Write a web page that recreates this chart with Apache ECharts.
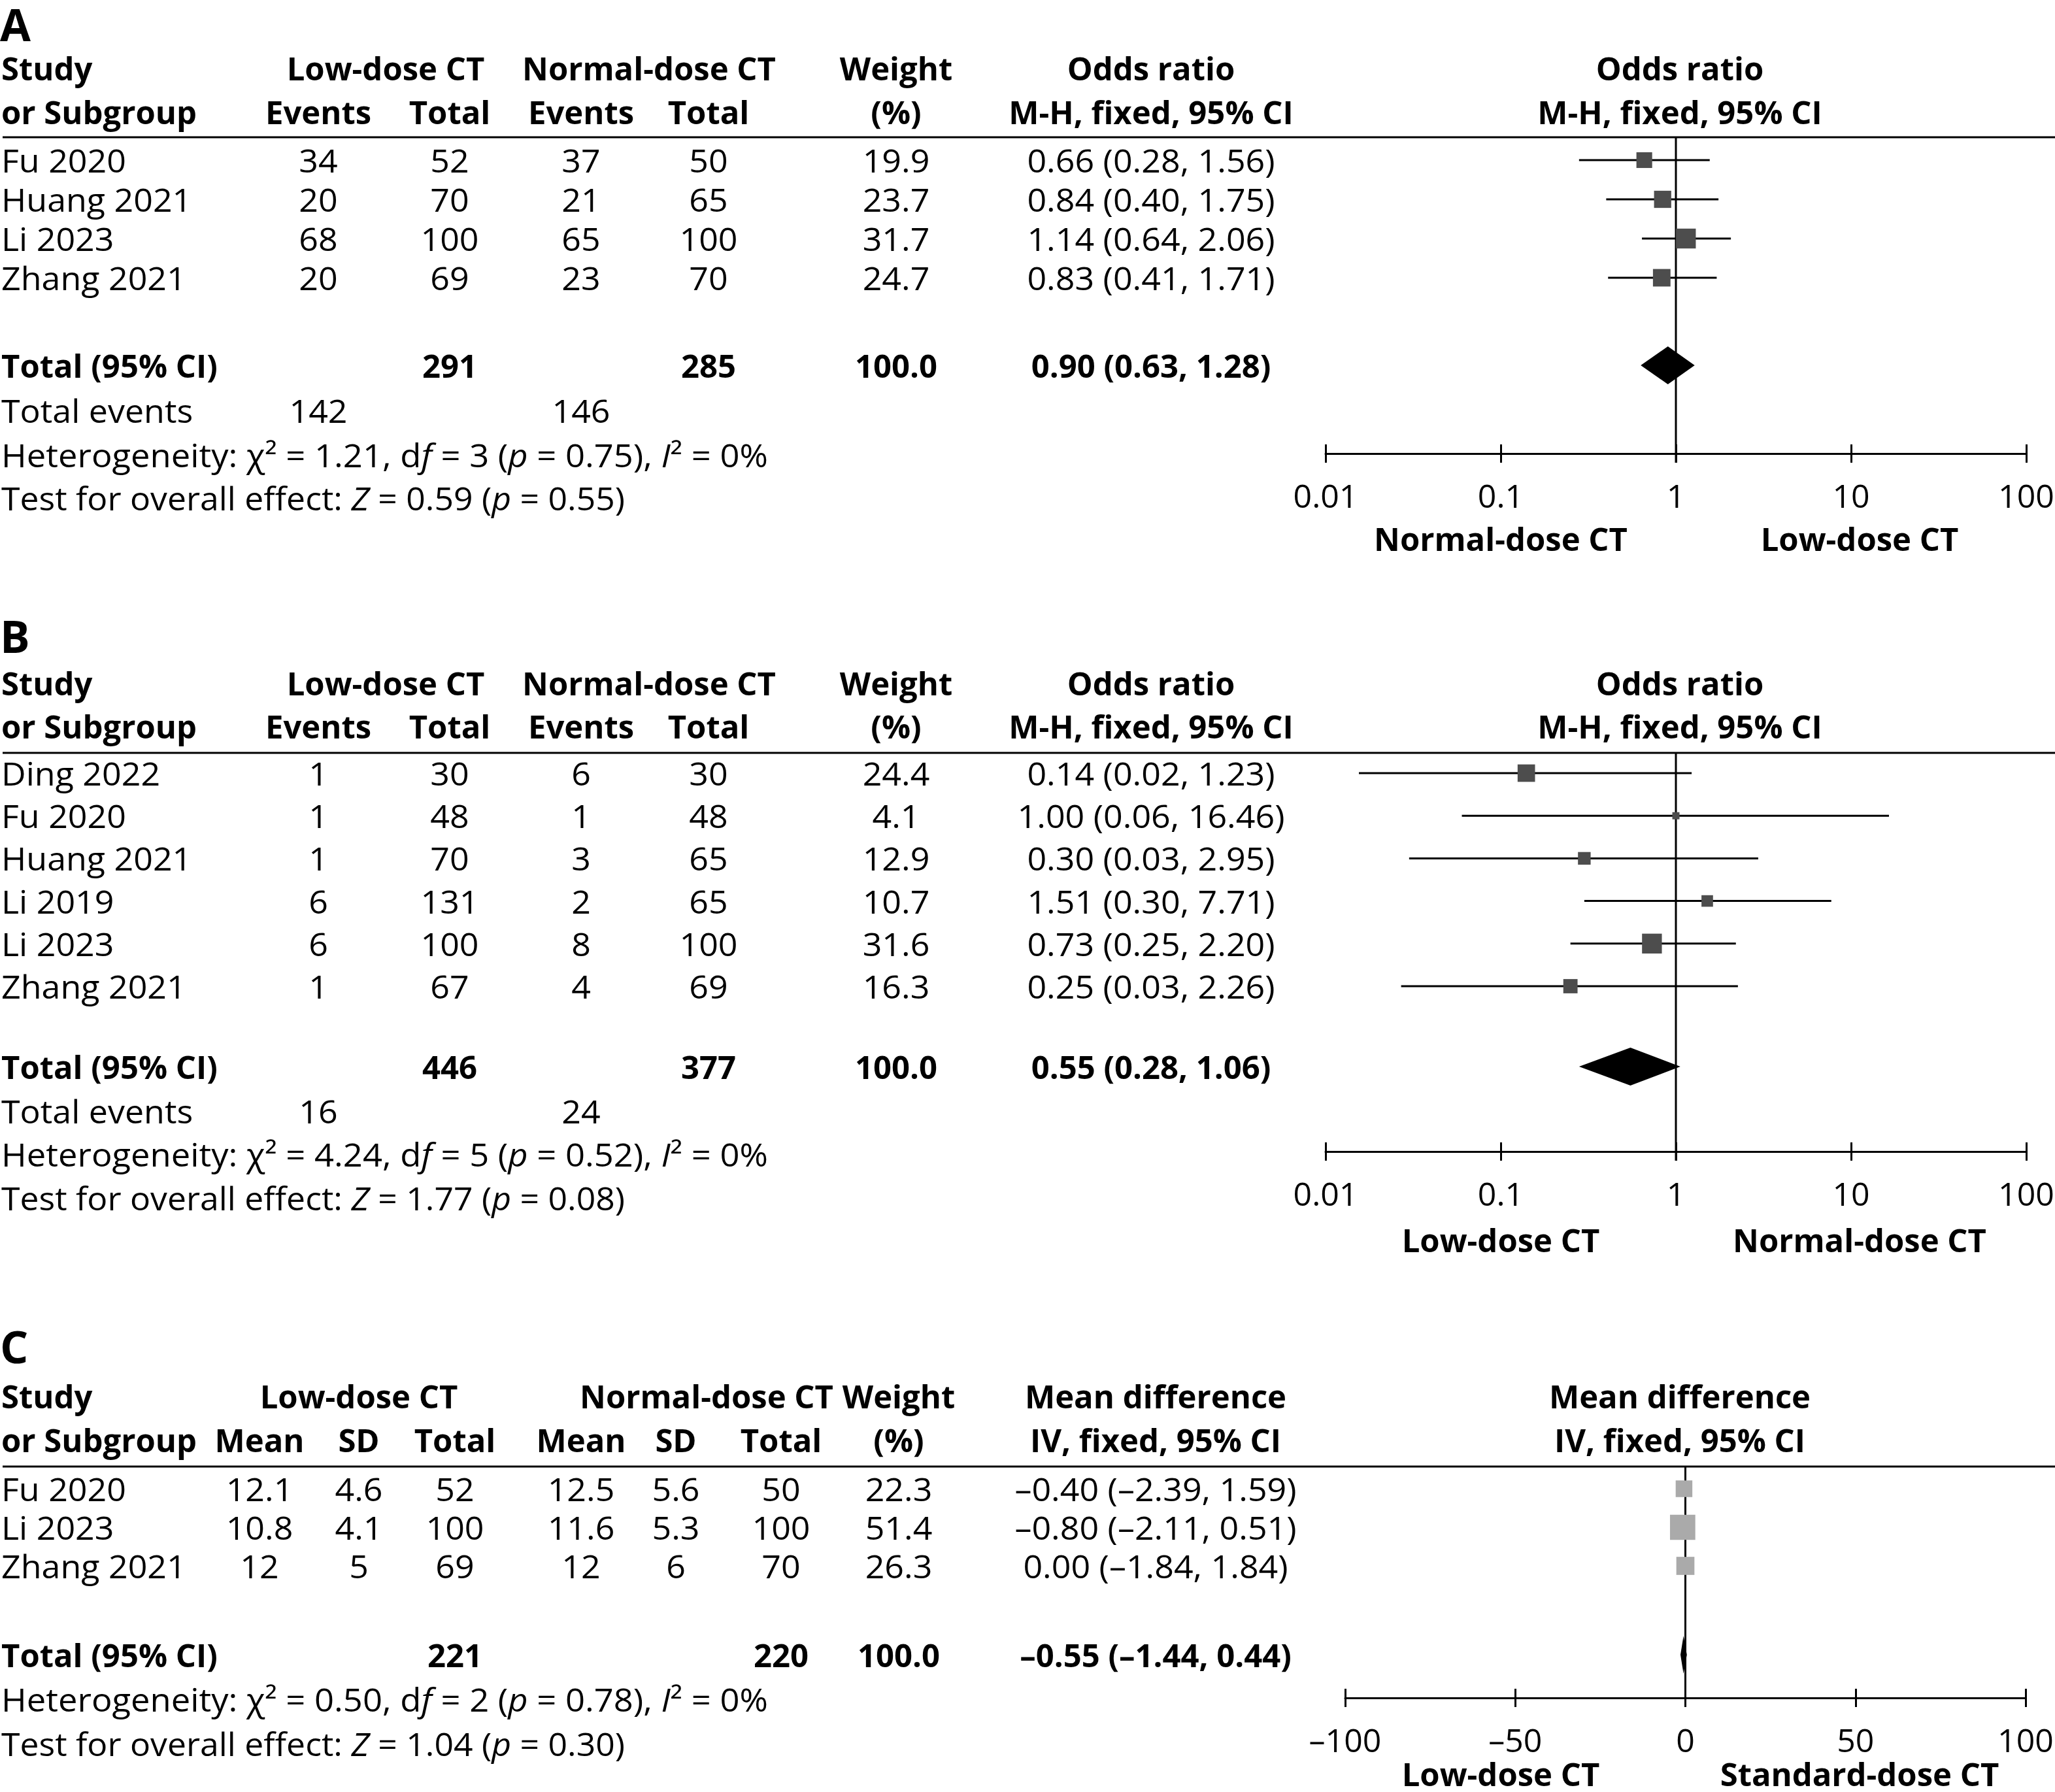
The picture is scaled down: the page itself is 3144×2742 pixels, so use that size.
<!DOCTYPE html>
<html>
<head>
<meta charset="utf-8">
<title>Forest plots</title>
<script src="https://cdn.jsdelivr.net/npm/echarts@6.0.0/dist/echarts.min.js"></script>
<style>
html, body { margin:0; padding:0; background:#fff; }
#chart { width:3144px; height:2742px; }
</style>
</head>
<body>
<div id="chart"></div>
<script>
// ================= DATA =================
// Panel A
const studiesA = ['Fu 2020', 'Huang 2021', 'Li 2023', 'Zhang 2021'];
const lowEventsA = [34, 20, 68, 20];
const lowTotalA = [52, 70, 100, 69];
const normEventsA = [37, 21, 65, 23];
const normTotalA = [50, 65, 100, 70];
const weightA = [19.9, 23.7, 31.7, 24.7];
const orA = [0.66, 0.84, 1.14, 0.83];
const orLowA = [0.28, 0.40, 0.64, 0.41];
const orHighA = [1.56, 1.75, 2.06, 1.71];
const totalsA = [291, 285, 100.0];
const pooledA = [0.90, 0.63, 1.28];
const totalEventsA = [142, 146];
const heterogeneityA = [1.21, 3, 0.75, 0];   // chi2, df, p, I2
const overallA = [0.59, 0.55];               // Z, p

// Panel B
const studiesB = ['Ding 2022', 'Fu 2020', 'Huang 2021', 'Li 2019', 'Li 2023', 'Zhang 2021'];
const lowEventsB = [1, 1, 1, 6, 6, 1];
const lowTotalB = [30, 48, 70, 131, 100, 67];
const normEventsB = [6, 1, 3, 2, 8, 4];
const normTotalB = [30, 48, 65, 65, 100, 69];
const weightB = [24.4, 4.1, 12.9, 10.7, 31.6, 16.3];
const orB = [0.14, 1.00, 0.30, 1.51, 0.73, 0.25];
const orLowB = [0.0155, 0.06, 0.03, 0.30, 0.25, 0.027];
const orHighB = [1.23, 16.46, 2.95, 7.71, 2.20, 2.26];
const totalsB = [446, 377, 100.0];
const pooledB = [0.55, 0.28, 1.06];
const totalEventsB = [16, 24];
const heterogeneityB = [4.24, 5, 0.52, 0];
const overallB = [1.77, 0.08];

// Panel C
const studiesC = ['Fu 2020', 'Li 2023', 'Zhang 2021'];
const lowMeanC = ['12.1', '10.8', '12'];
const lowSDC = ['4.6', '4.1', '5'];
const lowTotalC = [52, 100, 69];
const normMeanC = ['12.5', '11.6', '12'];
const normSDC = ['5.6', '5.3', '6'];
const normTotalC = [50, 100, 70];
const weightC = [22.3, 51.4, 26.3];
const mdC = [-0.40, -0.80, 0.00];
const mdLowC = [-2.39, -2.11, -1.84];
const mdHighC = [1.59, 0.51, 1.84];
const totalsC = [221, 220, 100.0];
const pooledC = [-0.55, -1.44, 0.44];
const heterogeneityC = [0.50, 2, 0.78, 0];
const overallC = [1.04, 0.30];

// Axis tick labels and direction labels
const orTickLabels = ['0.01', '0.1', '1', '10', '100'];
const mdTickLabels = ['\u2013100', '\u201350', '0', '50', '100'];
const directionA = ['Normal-dose CT', 'Low-dose CT'];
const directionB = ['Low-dose CT', 'Normal-dose CT'];
const directionC = ['Low-dose CT', 'Standard-dose CT'];

// ================= LAYOUT / STYLE =================
const W = 3144, H = 2742;
const FONT = '"Open Sans", "Noto Sans", "DejaVu Sans", sans-serif';
const FS = 49;
const LH = 50;
const REG_SX = 1.06;        // regular-weight text is a little wider in the reference
const LETTER_FS = 68;
const TEXT_DY = 0;
const SQ_K = 5.4;           // square side = SQ_K * sqrt(weight)
const DIAMOND_HALF = 29;
const TICK_LEN = 14;

const LA = {letter: 36, h1: 104, h2: 171, rule: 210, row0: 245, step: 60, total: 559, events: 628, het: 696, test: 762, axis: 694, dir: 824};
const LB = {letter: 972, h1: 1045, h2: 1111, rule: 1152, row0: 1183, step: 65.2, total: 1632, events: 1700, het: 1766, test: 1833, axis: 1762, dir: 1897};
const LC = {letter: 2059, h1: 2136, h2: 2203, rule: 2244, row0: 2278, step: 59, total: 2532, het: 2600, test: 2668, axis: 2598, dir: 2714};

const colsAB = {lowEv: 487, lowTot: 688, normEv: 889, normTot: 1084, weight: 1371, est: 1761, lowHdr: 590, normHdr: 993, plot: 2570, dirL: 2296, dirR: 2845};
const colsC = {lowMean: 397, lowSD: 549, lowTot: 696, normMean: 889, normSD: 1034, normTot: 1195, weight: 1375, est: 1768, lowHdr: 549, normHdr: 1081, plot: 2570, dirL: 2296, dirR: 2845};

const OR_GRID = {left: 2028, width: 1072};
const MD_GRID = {left: 2058, width: 1041};

// ================= HELPERS =================
const dash = s => s.replace(/-/g, '\u2013');
const f2 = v => dash(v.toFixed(2));
const f1 = v => v.toFixed(1);
const estText = (e, l, h) => f2(e) + ' (' + f2(l) + ', ' + f2(h) + ')';

function txt(x, y, s, opt) {
  opt = opt || {};
  const size = opt.size || FS;
  return {
    type: 'text', x: x, y: y + TEXT_DY, silent: true, z: 10,
    scaleX: opt.bold ? 1 : REG_SX,
    style: {
      text: s, fontSize: size, fontFamily: FONT, lineHeight: opt.lh || LH,
      fontWeight: opt.bold ? 'bold' : 'normal', fill: '#000',
      align: opt.align || 'center', verticalAlign: 'middle'
    }
  };
}
function richTxt(x, y, parts, sx) {
  const s = parts.map(p => '{' + (p[1] ? 'i' : 'r') + '|' + p[0] + '}').join('');
  return {
    type: 'text', x: x, y: y + TEXT_DY, silent: true, z: 10, scaleX: sx,
    style: {
      text: s, fontSize: FS, fontFamily: FONT, fill: '#000', align: 'left', verticalAlign: 'middle', lineHeight: LH,
      rich: {
        r: {fontSize: FS, fontFamily: FONT, fill: '#000', fontStyle: 'normal', lineHeight: LH},
        i: {fontSize: FS, fontFamily: FONT, fill: '#000', fontStyle: 'italic', lineHeight: LH}
      }
    }
  };
}
function hetText(y, h) {
  return richTxt(2, y, [
    ['Heterogeneity: \u03c7\u00b2 = ' + h[0].toFixed(2) + ', d', false], ['f', true],
    [' = ' + h[1] + ' (', false], ['p', true], [' = ' + h[2].toFixed(2) + '), ', false],
    ['I', true], ['\u00b2 = ' + h[3] + '%', false]
  ], 1.072);
}
function testText(y, o) {
  return richTxt(2, y, [
    ['Test for overall effect: ', false], ['Z', true], [' = ' + o[0].toFixed(2) + ' (', false],
    ['p', true], [' = ' + o[1].toFixed(2) + ')', false]
  ], 1.055);
}
function ruleLine(y) {
  return {type: 'line', silent: true, shape: {x1: 4, y1: y, x2: W, y2: y}, style: {stroke: '#000', lineWidth: 3}};
}

// ================= TABLE TEXT =================
const G = [];
function orPanel(letter, L, studies, le, lt, ne, nt, w, e, lo, hi, totals, pooled, tev, het, ov, dir) {
  const c = colsAB;
  G.push(txt(0, L.letter, letter, {size: LETTER_FS, bold: true, align: 'left', lh: 56}));
  G.push(txt(2, L.h1, 'Study', {bold: true, align: 'left'}));
  G.push(txt(2, L.h2, 'or Subgroup', {bold: true, align: 'left'}));
  G.push(txt(c.lowHdr, L.h1, 'Low-dose CT', {bold: true}));
  G.push(txt(c.normHdr, L.h1, 'Normal-dose CT', {bold: true}));
  G.push(txt(c.weight, L.h1, 'Weight', {bold: true}));
  G.push(txt(c.est, L.h1, 'Odds ratio', {bold: true}));
  G.push(txt(c.plot, L.h1, 'Odds ratio', {bold: true}));
  G.push(txt(c.lowEv, L.h2, 'Events', {bold: true}));
  G.push(txt(c.lowTot, L.h2, 'Total', {bold: true}));
  G.push(txt(c.normEv, L.h2, 'Events', {bold: true}));
  G.push(txt(c.normTot, L.h2, 'Total', {bold: true}));
  G.push(txt(c.weight, L.h2, '(%)', {bold: true}));
  G.push(txt(c.est, L.h2, 'M-H, fixed, 95% CI', {bold: true}));
  G.push(txt(c.plot, L.h2, 'M-H, fixed, 95% CI', {bold: true}));
  G.push(ruleLine(L.rule));
  studies.forEach((s, i) => {
    const y = L.row0 + i * L.step;
    G.push(txt(2, y, s, {align: 'left'}));
    G.push(txt(c.lowEv, y, String(le[i])));
    G.push(txt(c.lowTot, y, String(lt[i])));
    G.push(txt(c.normEv, y, String(ne[i])));
    G.push(txt(c.normTot, y, String(nt[i])));
    G.push(txt(c.weight, y, f1(w[i])));
    G.push(txt(c.est, y, estText(e[i], lo[i], hi[i])));
  });
  G.push(txt(2, L.total, 'Total (95% CI)', {bold: true, align: 'left'}));
  G.push(txt(c.lowTot, L.total, String(totals[0]), {bold: true}));
  G.push(txt(c.normTot, L.total, String(totals[1]), {bold: true}));
  G.push(txt(c.weight, L.total, f1(totals[2]), {bold: true}));
  G.push(txt(c.est, L.total, estText(pooled[0], pooled[1], pooled[2]), {bold: true}));
  G.push(txt(2, L.events, 'Total events', {align: 'left'}));
  G.push(txt(c.lowEv, L.events, String(tev[0])));
  G.push(txt(c.normEv, L.events, String(tev[1])));
  G.push(hetText(L.het, het));
  G.push(testText(L.test, ov));
  G.push(txt(c.dirL, L.dir, dir[0], {bold: true, lh: 40}));
  G.push(txt(c.dirR, L.dir, dir[1], {bold: true, lh: 40}));
}
orPanel('A', LA, studiesA, lowEventsA, lowTotalA, normEventsA, normTotalA, weightA, orA, orLowA, orHighA, totalsA, pooledA, totalEventsA, heterogeneityA, overallA, directionA);
orPanel('B', LB, studiesB, lowEventsB, lowTotalB, normEventsB, normTotalB, weightB, orB, orLowB, orHighB, totalsB, pooledB, totalEventsB, heterogeneityB, overallB, directionB);

(function () {
  const c = colsC, L = LC;
  G.push(txt(0, L.letter, 'C', {size: LETTER_FS, bold: true, align: 'left', lh: 56}));
  G.push(txt(2, L.h1, 'Study', {bold: true, align: 'left'}));
  G.push(txt(2, L.h2, 'or Subgroup', {bold: true, align: 'left'}));
  G.push(txt(c.lowHdr, L.h1, 'Low-dose CT', {bold: true}));
  G.push(txt(c.normHdr, L.h1, 'Normal-dose CT', {bold: true}));
  G.push(txt(c.weight, L.h1, 'Weight', {bold: true}));
  G.push(txt(c.est, L.h1, 'Mean difference', {bold: true}));
  G.push(txt(c.plot, L.h1, 'Mean difference', {bold: true}));
  G.push(txt(c.lowMean, L.h2, 'Mean', {bold: true}));
  G.push(txt(c.lowSD, L.h2, 'SD', {bold: true}));
  G.push(txt(c.lowTot, L.h2, 'Total', {bold: true}));
  G.push(txt(c.normMean, L.h2, 'Mean', {bold: true}));
  G.push(txt(c.normSD, L.h2, 'SD', {bold: true}));
  G.push(txt(c.normTot, L.h2, 'Total', {bold: true}));
  G.push(txt(c.weight, L.h2, '(%)', {bold: true}));
  G.push(txt(c.est, L.h2, 'IV, fixed, 95% CI', {bold: true}));
  G.push(txt(c.plot, L.h2, 'IV, fixed, 95% CI', {bold: true}));
  G.push(ruleLine(L.rule));
  studiesC.forEach((s, i) => {
    const y = L.row0 + i * L.step;
    G.push(txt(2, y, s, {align: 'left'}));
    G.push(txt(c.lowMean, y, lowMeanC[i]));
    G.push(txt(c.lowSD, y, lowSDC[i]));
    G.push(txt(c.lowTot, y, String(lowTotalC[i])));
    G.push(txt(c.normMean, y, normMeanC[i]));
    G.push(txt(c.normSD, y, normSDC[i]));
    G.push(txt(c.normTot, y, String(normTotalC[i])));
    G.push(txt(c.weight, y, f1(weightC[i])));
    G.push(txt(c.est, y, estText(mdC[i], mdLowC[i], mdHighC[i])));
  });
  G.push(txt(2, L.total, 'Total (95% CI)', {bold: true, align: 'left'}));
  G.push(txt(c.lowTot, L.total, String(totalsC[0]), {bold: true}));
  G.push(txt(c.normTot, L.total, String(totalsC[1]), {bold: true}));
  G.push(txt(c.weight, L.total, f1(totalsC[2]), {bold: true}));
  G.push(txt(c.est, L.total, estText(pooledC[0], pooledC[1], pooledC[2]), {bold: true}));
  G.push(hetText(L.het, heterogeneityC));
  G.push(testText(L.test, overallC));
  G.push(txt(c.dirL, L.dir, directionC[0], {bold: true, lh: 40}));
  G.push(txt(c.dirR, L.dir, directionC[1], {bold: true, lh: 40}));
})();

// ================= AXES / GRIDS =================
function gridFor(L, g) {
  return {left: g.left, width: g.width, top: L.rule, height: L.axis - L.rule, containLabel: false, outerBoundsMode: 'none'};
}
function rowAxis(gi, L) {
  return {type: 'value', gridIndex: gi, inverse: true, show: false,
    min: (L.rule - L.row0) / L.step, max: (L.axis - L.row0) / L.step,
    axisLine: {show: false}, axisTick: {show: false}, axisLabel: {show: false}, splitLine: {show: false}};
}
const LABEL_MARGIN = 44;
function xAxisFor(gi, kind, main) {
  const base = {
    gridIndex: gi, position: 'bottom',
    axisLine: {show: main, onZero: false, lineStyle: {color: '#000', width: 3}},
    axisTick: {show: true, inside: !main, length: TICK_LEN, lineStyle: {color: '#000', width: 3}},
    axisLabel: {show: main, margin: LABEL_MARGIN, fontSize: 50, lineHeight: 40, fontFamily: FONT, color: '#000'},
    splitLine: {show: false}, minorTick: {show: false}, minorSplitLine: {show: false}
  };
  if (kind === 'or') {
    Object.assign(base, {type: 'log', logBase: 10, min: 0.01, max: 100});
    base.axisLabel.formatter = v => orTickLabels[Math.round(Math.log10(v)) + 2];
  } else {
    Object.assign(base, {type: 'value', min: -100, max: 100, interval: 50});
    base.axisLabel.formatter = v => mdTickLabels[Math.round((v + 100) / 50)];
  }
  return base;
}

// ================= SERIES =================
function studySeries(xi, yi, data, color) {
  return {
    type: 'custom', xAxisIndex: xi, yAxisIndex: yi, clip: false, z: 3, silent: true,
    data: data, encode: {x: [0, 2, 3], y: 1},
    renderItem: function (params, api) {
      const r = api.value(1);
      const c = api.coord([api.value(0), r]);
      const l = api.coord([api.value(2), r]);
      const h = api.coord([api.value(3), r]);
      const s = SQ_K * Math.sqrt(api.value(4));
      return {type: 'group', children: [
        {type: 'line', shape: {x1: l[0], y1: l[1], x2: h[0], y2: h[1]}, style: {stroke: '#000', lineWidth: 3}},
        {type: 'rect', shape: {x: c[0] - s / 2, y: c[1] - s / 2, width: s, height: s}, style: {fill: color}}
      ]};
    }
  };
}
function diamondSeries(xi, yi, data) {
  return {
    type: 'custom', xAxisIndex: xi, yAxisIndex: yi, clip: false, z: 4, silent: true,
    data: data, encode: {x: [0, 2, 3], y: 1},
    renderItem: function (params, api) {
      const r = api.value(1);
      const c = api.coord([api.value(0), r]);
      const l = api.coord([api.value(2), r]);
      const h = api.coord([api.value(3), r]);
      return {type: 'polygon', shape: {points: [[l[0], c[1]], [c[0], c[1] - DIAMOND_HALF], [h[0], c[1]], [c[0], c[1] + DIAMOND_HALF]]},
        style: {fill: '#000'}};
    }
  };
}
function nullSeries(xi, yi, xval) {
  return {
    type: 'custom', xAxisIndex: xi, yAxisIndex: yi, clip: false, z: 2, silent: true,
    data: [[xval, 0]], encode: {x: 0, y: 1},
    renderItem: function (params, api) {
      const cs = params.coordSys;
      const p = api.coord([api.value(0), api.value(1)]);
      return {type: 'line', shape: {x1: p[0], y1: cs.y, x2: p[0], y2: cs.y + cs.height + TICK_LEN},
        style: {stroke: '#000', lineWidth: 3}};
    }
  };
}
function rowsData(est, lo, hi, w) { return est.map((e, i) => [e, i, lo[i], hi[i], w[i]]); }
const totalRow = L => (L.total - L.row0) / L.step;

const option = {
  backgroundColor: '#fff',
  animation: false,
  grid: [gridFor(LA, OR_GRID), gridFor(LB, OR_GRID), gridFor(LC, MD_GRID)],
  xAxis: [
    xAxisFor(0, 'or', true), xAxisFor(0, 'or', false),
    xAxisFor(1, 'or', true), xAxisFor(1, 'or', false),
    xAxisFor(2, 'md', true), xAxisFor(2, 'md', false)
  ],
  yAxis: [rowAxis(0, LA), rowAxis(1, LB), rowAxis(2, LC)],
  series: [
    nullSeries(0, 0, 1),
    studySeries(0, 0, rowsData(orA, orLowA, orHighA, weightA), '#4d4d4d'),
    diamondSeries(0, 0, [[pooledA[0], totalRow(LA), pooledA[1], pooledA[2]]]),
    nullSeries(2, 1, 1),
    studySeries(2, 1, rowsData(orB, orLowB, orHighB, weightB), '#4d4d4d'),
    diamondSeries(2, 1, [[pooledB[0], totalRow(LB), pooledB[1], pooledB[2]]]),
    nullSeries(4, 2, 0),
    studySeries(4, 2, rowsData(mdC, mdLowC, mdHighC, weightC), '#aaaaaa'),
    diamondSeries(4, 2, [[pooledC[0], totalRow(LC), pooledC[1], pooledC[2]]])
  ],
  graphic: G
};

const chart = echarts.init(document.getElementById('chart'), null, {renderer: 'svg', width: W, height: H});
chart.setOption(option);
</script>
</body>
</html>
